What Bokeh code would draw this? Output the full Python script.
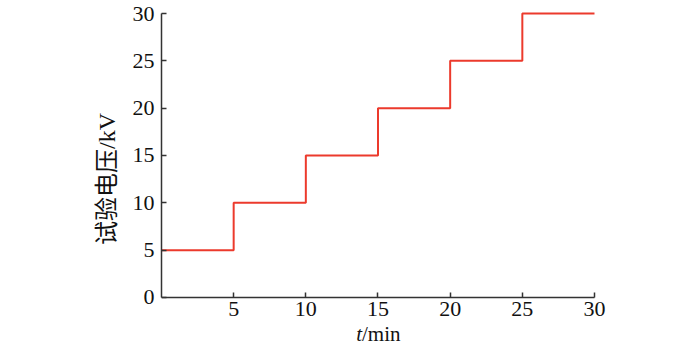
from bokeh.plotting import figure
from bokeh.models import Range1d, FixedTicker
from bokeh.core.properties import value
from bokeh.embed import file_html
from bokeh.resources import INLINE

# Data
step_t = [0, 5, 10, 15, 20, 25, 30]
step_v = [5, 10, 15, 20, 25, 30, 30]
x_ticks = [5, 10, 15, 20, 25, 30]
y_ticks = [0, 5, 10, 15, 20, 25, 30]
y_label = "试验电压/kV"
x_label_var = "t"
x_label_unit = "/min"

SERIF = "Liberation Serif"
CJK = "Liberation Serif, Noto Sans CJK SC"
AXIS_COLOR = "#333333"
TEXT_COLOR = "#111111"

p = figure(width=684, height=346, output_backend="svg", toolbar_location=None,
           x_range=Range1d(0, 30.97), y_range=Range1d(-5.18, 30.21),
           min_border_left=161, min_border_right=76, min_border_top=11, min_border_bottom=0)
p.outline_line_color = None
p.grid.grid_line_color = None

p.step(step_t, step_v, mode="after", line_color="#ec3a2c", line_width=2)

for ax in (p.xaxis[0], p.yaxis[0]):
    ax.axis_line_color = AXIS_COLOR
    ax.axis_line_width = 1.5
    ax.major_tick_line_color = AXIS_COLOR
    ax.major_tick_line_width = 1.5
    ax.major_tick_in = 5
    ax.major_tick_out = 0
    ax.minor_tick_line_color = None
    ax.major_label_text_font = SERIF
    ax.major_label_text_font_size = "22px"
    ax.major_label_text_color = TEXT_COLOR

p.xaxis.ticker = FixedTicker(ticks=x_ticks)
p.yaxis.ticker = FixedTicker(ticks=y_ticks)
p.xaxis.fixed_location = 0
p.xaxis.bounds = (0, 30)
p.yaxis.bounds = (0, 30)
p.xaxis.major_label_standoff = 5
p.yaxis.major_label_standoff = 7
p.yaxis.axis_label = y_label
p.yaxis.axis_label_text_font = CJK
p.yaxis.axis_label_text_font_size = "24px"
p.yaxis.axis_label_text_font_style = "normal"
p.yaxis.axis_label_text_color = TEXT_COLOR
p.yaxis.axis_label_standoff = 10

# x-axis title: italic variable + upright unit, centred under the axis
mid_t = (step_t[0] + step_t[-1]) / 2
p.text(x=[mid_t], y=[-3.9], text=[x_label_var], x_offset=-16,
       text_font=value(SERIF), text_font_style="italic", text_font_size="21px",
       text_align="right", text_baseline="middle", text_color=TEXT_COLOR)
p.text(x=[mid_t], y=[-3.9], text=[x_label_unit], x_offset=-16,
       text_font=value(SERIF), text_font_size="21px",
       text_align="left", text_baseline="middle", text_color=TEXT_COLOR)

open("out.html", "w").write(file_html(p, INLINE))
